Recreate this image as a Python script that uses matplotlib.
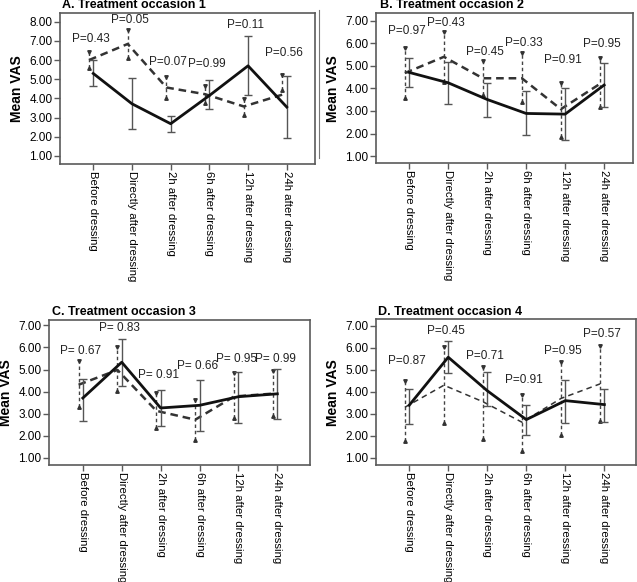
import matplotlib.pyplot as plt
import numpy as np

plt.rcParams['font.family'] = ['Liberation Sans', 'DejaVu Sans']
plt.rcParams['lines.scale_dashes'] = False

times = ['Before dressing', 'Directly after dressing', '2h after dressing',
         '6h after dressing', '12h after dressing', '24h after dressing']

# A. Treatment occasion 1
a_solid = [5.30, 3.72, 2.68, 4.15, 5.70, 3.55]
a_solid_lo = [4.65, 2.41, 2.23, 3.45, 4.18, 1.92]
a_solid_hi = [6.00, 5.08, 3.10, 4.96, 7.27, 5.17]
a_dash = [6.00, 6.84, 4.57, 4.22, 3.58, 4.20]
a_dash_lo = [5.57, 6.09, 4.00, 3.75, 3.14, 4.42]
a_dash_hi = [6.40, 7.57, 5.13, 4.65, 3.95, 5.20]
a_p = ['P=0.43', 'P=0.05', 'P=0.07', 'P=0.99', 'P=0.11', 'P=0.56']
a_p_y = [7.08, 8.09, 5.91, 5.79, 7.83, 6.35]

# B. Treatment occasion 2
b_solid = [4.71, 4.25, 3.51, 2.89, 2.86, 4.15]
b_solid_lo = [4.05, 3.29, 2.74, 1.93, 1.71, 3.16]
b_solid_hi = [5.36, 5.18, 4.22, 3.90, 4.00, 5.14]
b_dash = [4.68, 5.40, 4.45, 4.45, 3.08, 4.20]
b_dash_lo = [3.56, 4.29, 3.70, 3.38, 1.86, 3.16]
b_dash_hi = [5.78, 6.51, 5.23, 5.55, 4.25, 5.34]
b_p = ['P=0.97', 'P=0.43', 'P=0.45', 'P=0.33', 'P=0.91', 'P=0.95']
b_p_y = [6.56, 6.91, 5.63, 6.00, 5.26, 5.97]

# C. Treatment occasion 3
c_solid = [3.71, 5.33, 3.26, 3.38, 3.77, 3.90]
c_solid_lo = [2.69, 4.24, 2.43, 2.23, 2.58, 2.78]
c_solid_hi = [4.58, 6.39, 4.09, 4.51, 4.89, 5.04]
c_dash = [4.31, 4.98, 3.13, 2.73, 3.78, 3.91]
c_dash_lo = [3.29, 4.02, 2.36, 1.83, 2.81, 2.89]
c_dash_hi = [5.37, 6.00, 3.94, 3.64, 4.84, 4.95]
c_p = ['P= 0.67', 'P= 0.83', 'P= 0.91', 'P= 0.66', 'P= 0.95', 'P= 0.99']
c_p_y = [5.82, 6.88, 4.77, 5.15, 5.49, 5.49]

# D. Treatment occasion 4
d_solid = [3.39, 5.57, 4.05, 2.74, 3.60, 3.42]
d_solid_lo = [2.54, 4.85, 3.34, 2.06, 2.59, 2.63]
d_solid_hi = [4.13, 6.32, 4.89, 3.39, 4.52, 4.14]
d_dash = [3.30, 4.30, 3.55, 2.62, 3.70, 4.36]
d_dash_lo = [1.78, 2.59, 1.88, 1.30, 2.06, 2.66]
d_dash_hi = [4.50, 6.03, 5.11, 3.87, 5.34, 6.06]
d_p = ['P=0.87', 'P=0.45', 'P=0.71', 'P=0.91', 'P=0.95', 'P=0.57']
d_p_y = [5.39, 6.75, 5.61, 4.55, 5.84, 6.62]

W, H = 637, 582
fig = plt.figure(figsize=(W / 100, H / 100), dpi=100)
frame = '#5a5a5a'


def panel(box, xlim, ylim, yticks, title, title_xy,
          solid, s_lo, s_hi, dash, d_lo, d_hi, plabels, ply, thin_dash=False):
    l, t, r, b = box
    ax = fig.add_axes([l / W, 1 - b / H, (r - l) / W, (b - t) / H])
    x = np.arange(len(times))
    xd = x - 0.11

    # dashed series: error bars then mean line
    ax.vlines(xd, d_lo, d_hi, colors='#444444', linewidth=1.0,
              linestyles=(0, (2.5, 2.0)), zorder=2)
    ax.plot(xd, d_hi, linestyle='none', marker='v', ms=2.5, color='#333333', zorder=2)
    ax.plot(xd, d_lo, linestyle='none', marker='^', ms=2.5, color='#333333', zorder=2)
    if thin_dash:
        ax.plot(xd, dash, color='#333333', lw=1.1, dashes=(4, 3), zorder=3)
    else:
        ax.plot(xd, dash, color='#333333', lw=1.8, dashes=(5.5, 3.5), zorder=3)

    # solid series
    s = np.array(solid)
    yerr = [s - np.array(s_lo), np.array(s_hi) - s]
    ax.errorbar(x, s, yerr=yerr, fmt='none', ecolor='#555555', elinewidth=1.0,
                capsize=3, capthick=1.0, zorder=4)
    ax.plot(x, s, color='#111111', lw=2.0, zorder=5)

    for i, (lab, yy) in enumerate(zip(plabels, ply)):
        ax.text(i - 0.06, yy, lab, ha='center', va='center', fontsize=8.5,
                color='#222222', zorder=6)

    ax.set_xlim(*xlim)
    ax.set_ylim(*ylim)
    ax.set_xticks(x)
    ax.set_xticklabels(times, rotation=270, fontsize=8.2, va='top', ha='center')
    ax.set_yticks(yticks)
    ax.set_yticklabels(['%.2f' % v for v in yticks], fontsize=8.5)
    ax.tick_params(length=4, width=1.0, color=frame, pad=1.5)
    ax.tick_params(axis='x', pad=1)
    for sp in ax.spines.values():
        sp.set_color(frame)
        sp.set_linewidth(1.2)
    ax.set_ylabel('Mean VAS', fontsize=10, fontweight='bold', labelpad=4)
    fig.text(title_xy[0] / W, 1 - title_xy[1] / H, title, fontsize=9,
             fontweight='bold', ha='left', va='center')
    return ax


panel((60, 12.5, 315, 164), (-0.86, 5.73), (0.58, 8.48), [1, 2, 3, 4, 5, 6, 7, 8],
      'A. Treatment occasion 1', (62, 5),
      a_solid, a_solid_lo, a_solid_hi, a_dash, a_dash_lo, a_dash_hi, a_p, a_p_y)
panel((376, 13.3, 633, 163.3), (-0.85, 5.74), (0.68, 7.33), [1, 2, 3, 4, 5, 6, 7],
      'B. Treatment occasion 2', (380, 5),
      b_solid, b_solid_lo, b_solid_hi, b_dash, b_dash_lo, b_dash_hi, b_p, b_p_y)
panel((49, 320, 310, 465), (-0.87, 5.84), (0.68, 7.24), [1, 2, 3, 4, 5, 6, 7],
      'C. Treatment occasion 3', (52, 312),
      c_solid, c_solid_lo, c_solid_hi, c_dash, c_dash_lo, c_dash_hi, c_p, c_p_y)
panel((376, 319.3, 636, 465), (-0.85, 5.81), (0.68, 7.29), [1, 2, 3, 4, 5, 6, 7],
      'D. Treatment occasion 4', (378, 312),
      d_solid, d_solid_lo, d_solid_hi, d_dash, d_dash_lo, d_dash_hi, d_p, d_p_y,
      thin_dash=True)

# thin border line left of panel B in the original figure
fig.add_artist(plt.Line2D([318.5 / W, 318.5 / W], [1 - 158 / H, 1 - 10 / H],
                          transform=fig.transFigure, color='#777777', lw=0.8))

fig.savefig('out.png', dpi=100)
